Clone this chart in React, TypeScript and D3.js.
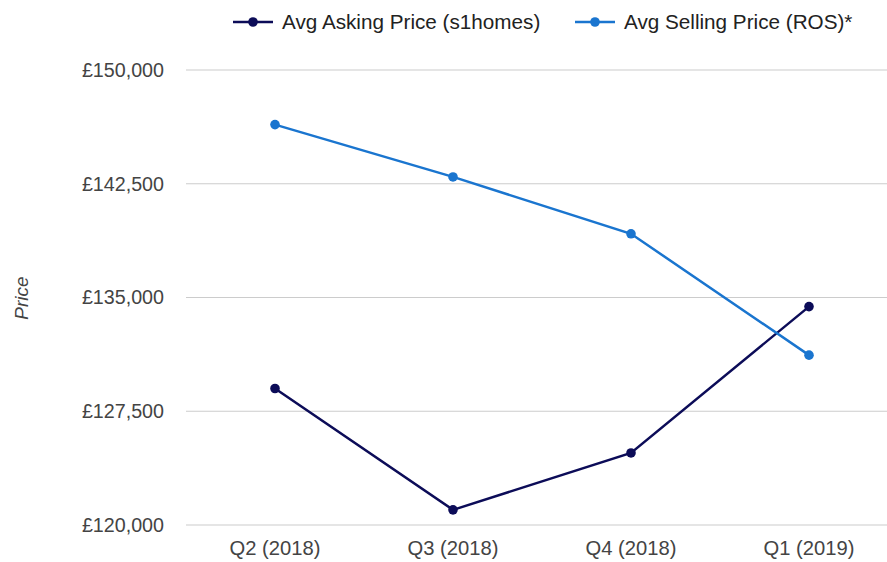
import React from "react";
import * as d3 from "d3";

const categories = ["Q2 (2018)", "Q3 (2018)", "Q4 (2018)", "Q1 (2019)"];
const askingPrice = [129000, 121000, 124750, 134400];
const sellingPrice = [146400, 142950, 139200, 131200];
const yTicks = [120000, 127500, 135000, 142500, 150000];
const seriesNames = ["Avg Asking Price (s1homes)", "Avg Selling Price (ROS)*"];
const seriesColors = ["#0c0c58", "#1a75cf"];

const W = 887;
const H = 562;
const FONT = "'Liberation Sans', Arial, sans-serif";

export default function App() {
  const x = d3.scaleBand<string>().domain(categories).range([186, 898]);
  const y = d3.scaleLinear().domain([120000, 150000]).range([525, 70]);
  const fmt = (v: number) => "£" + d3.format(",")(v);
  const line = d3
    .line<number>()
    .x((_, i) => (x(categories[i]) as number) + x.bandwidth() / 2)
    .y((d) => y(d));
  const series = [askingPrice, sellingPrice];
  const legendX = [233, 575];

  return (
    <svg
      width={W}
      height={H}
      style={{ position: "absolute", left: 0, top: 0, background: "#fff" }}
      fontFamily={FONT}
    >
      <rect width={W} height={H} fill="#fff" />
      {yTicks.map((t) => (
        <g key={t}>
          <line x1={186} x2={W} y1={y(t)} y2={y(t)} stroke="#cccccc" strokeWidth={1.2} />
          <text x={164} y={y(t)} dy="0.35em" textAnchor="end" fontSize={19.7} fill="#444">
            {fmt(t)}
          </text>
        </g>
      ))}
      {categories.map((c) => (
        <text
          key={c}
          x={(x(c) as number) + x.bandwidth() / 2}
          y={548}
          dy="0.35em"
          textAnchor="middle"
          fontSize={20.2}
          fill="#444"
        >
          {c}
        </text>
      ))}
      <text
        transform="translate(21,298) rotate(-90)"
        textAnchor="middle"
        dy="0.35em"
        fontSize={19}
        fontStyle="italic"
        fill="#444"
      >
        Price
      </text>
      {series.map((s, si) => (
        <g key={si}>
          <path d={line(s) || ""} fill="none" stroke={seriesColors[si]} strokeWidth={2.5} />
          {s.map((v, i) => (
            <circle
              key={i}
              cx={(x(categories[i]) as number) + x.bandwidth() / 2}
              cy={y(v)}
              r={4.8}
              fill={seriesColors[si]}
            />
          ))}
        </g>
      ))}
      {seriesNames.map((n, i) => (
        <g key={n}>
          <line x1={legendX[i]} x2={legendX[i] + 40} y1={22} y2={22} stroke={seriesColors[i]} strokeWidth={2.5} />
          <circle cx={legendX[i] + 20} cy={22} r={4.8} fill={seriesColors[i]} />
          <text x={legendX[i] + 49} y={22} dy="0.35em" fontSize={20.7} fill="#222">
            {n}
          </text>
        </g>
      ))}
    </svg>
  );
}
